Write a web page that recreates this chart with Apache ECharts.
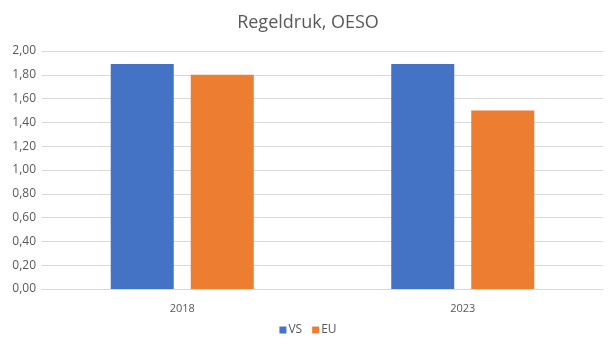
<!DOCTYPE html>
<html>
<head>
<meta charset="utf-8">
<script src="https://cdn.jsdelivr.net/npm/echarts@6/dist/echarts.min.js"></script>
<style>
	html,body{margin:0;padding:0;background:#fff;}
	#main{width:616px;height:351px;}
</style>
</head>
<body>
<div id="main"></div>
<script>
	var categories = ['2018', '2023'];
	var vsValues = [1.89, 1.89];
	var euValues = [1.80, 1.50];
	var yTicks = { min: 0, max: 2, interval: 0.2 };

	var textColor = '#595959';
	var font = '"Open Sans", "Liberation Sans", sans-serif';

	var chart = echarts.init(document.getElementById('main'));

	chart.setOption({
		animation: false,
		title: {
			text: 'Regeldruk, OESO',
			left: 'center',
			top: 9,
			textStyle: { fontFamily: font, fontSize: 18, fontWeight: 'normal', color: textColor }
		},
		legend: {
			data: ['VS', 'EU'],
			bottom: 10,
			left: 'center',
			itemWidth: 7,
			itemHeight: 7,
			itemGap: 10,
			icon: 'rect',
			textStyle: { fontFamily: font, fontSize: 12, color: textColor, padding: [0, 0, 0, -3] }
		},
		grid: { left: 42, right: 13, top: 51, bottom: 62 },
		xAxis: {
			type: 'category',
			data: categories,
			axisLine: { lineStyle: { color: '#d9d9d9' } },
			axisTick: { show: false },
			axisLabel: { fontFamily: font, fontSize: 11, color: textColor, margin: 14 }
		},
		yAxis: {
			type: 'value',
			min: yTicks.min,
			max: yTicks.max,
			interval: yTicks.interval,
			axisLine: { show: false },
			axisTick: { show: false },
			splitLine: { lineStyle: { color: '#d9d9d9' } },
			axisLabel: {
				fontFamily: font, fontSize: 12, color: textColor, margin: 6,
				formatter: function (v) { return v.toFixed(2).replace('.', ','); }
			}
		},
		series: [
			{ name: 'VS', type: 'bar', data: vsValues, barWidth: 63, barGap: '27%', itemStyle: { color: '#4472C4' } },
			{ name: 'EU', type: 'bar', data: euValues, barWidth: 63, barGap: '27%', itemStyle: { color: '#ED7D31' } }
		]
	});
</script>
</body>
</html>
